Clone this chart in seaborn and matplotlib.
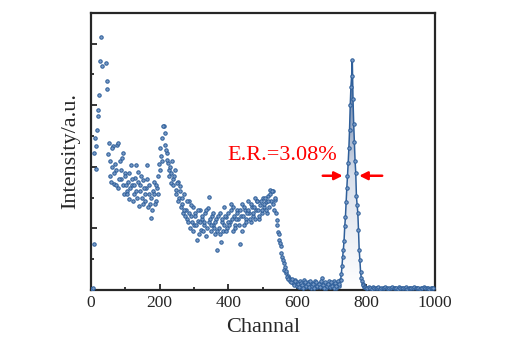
import numpy as np
import pandas as pd
import matplotlib
matplotlib.use("Agg")
import matplotlib.pyplot as plt
from matplotlib.colors import LinearSegmentedColormap
from matplotlib.ticker import MultipleLocator
import seaborn as sns

# spectrum counts, channels 0..724 every 4 channels
counts_a = [
    20, 15, 740, 2470, 1970, 2930, 3170, 4110, 3630, 4900, 5300, 3690, 3270,
    2390, 1850, 2000, 2340, 1720, 1950, 2360, 1650, 2100, 1800, 2230, 1560,
    1900, 1600, 1750, 1480, 2030, 1700, 1550, 1820, 1600, 1920, 1366, 1700, 1500,
    1780, 1450, 1650, 2030, 1550, 1400, 1170, 1600, 1750, 1450, 1650, 1850,
    1950, 2168, 2470, 2660, 2360, 2230, 2065, 1950, 1740, 2100, 1800, 1950,
    1620, 1760, 1500, 1680,
    1400, 1250, 1550, 1300, 1150, 1450, 1008, 1200, 1350, 1050, 1250, 813,
    1120, 1300, 980, 1150, 1050, 1250, 870, 1330, 1100, 950, 1200, 1050,
    900, 1150, 650, 1000, 1250, 1100, 950, 1350, 1180, 1000,
    1250, 1100, 1400, 950, 1200, 1050, 1300, 1150, 750, 1200, 1400, 1050,
    1300, 1150, 1450, 1250, 1100, 1350, 1200, 1500, 1300, 1440, 1150, 1380,
    1250, 1500, 1350, 1420, 1250, 1530, 1626, 1450, 1600, 1300, 1463, 1138,
    948, 813, 705, 540, 440, 379, 276, 230, 195, 160, 140, 110, 160, 90, 120,
    70, 140, 50, 100, 160, 40, 90, 130, 60, 30, 110, 70, 150, 40, 90, 60,
    120, 195, 50, 100, 30, 80, 140, 40, 90, 60, 150, 30, 110, 70, 160,
]

# spectrum counts, channels 2..722 every 4 channels
counts_b = [
    10, 25, 2230, 2330, 2590, 2820, 3712, 4700, 5000, 5100, 4800, 3400, 2200,
    2100, 1750, 2300, 1900, 2050, 1700, 2390, 1800, 1950, 2150, 1700, 1850,
    1700, 1550, 1900, 1650, 1800, 1450, 1700, 2030, 1500, 1750, 1600, 1850,
    1400, 1650, 1550, 1800, 1350, 1700, 1500, 1300, 1550, 1400, 1700, 1550, 2050,
    2300, 2100, 2655, 2550, 2276, 2114, 1850, 2000, 1900, 1700, 1850, 1550,
    1740, 1450, 1600, 1350,
    1500, 1300, 1200, 1450, 1100, 1250, 1380, 1100, 950, 1200, 1050, 1300,
    900, 1100, 1200, 950, 1100, 1300, 1000, 1512, 1150, 1050, 1250, 1000,
    1100, 950, 1200, 900, 780, 1150, 1050, 1200, 950, 1100,
    1050, 1300, 1150, 1350, 1000, 1150, 1250, 1050, 1300, 950, 1200, 1350,
    1100, 1250, 1300, 1150, 1400, 1250, 1350, 1150, 1436, 1300, 1200, 1450,
    1300, 1400, 1496, 1300, 1450, 1350, 1550, 1600, 1400, 1500, 1250, 1050,
    900, 760, 600, 488, 330, 300, 211, 180, 150, 120, 170, 80, 140, 60, 100,
    40, 110, 80, 30, 130, 70, 100, 40, 150, 60, 90, 30, 120, 70, 100,
    40, 140, 80, 30, 120, 60, 100, 40, 130, 70, 30, 110, 60, 140, 90,
]

# photopeak, channels 726..796 every 2 channels
peak_counts = [
    160, 250, 380, 540, 650, 800, 1030, 1180, 1420, 1650, 1850, 2065, 2300,
    2600, 3000, 3300, 3470, 3729, 3100, 2700, 2400, 2100, 1902, 1517, 1380,
    1252, 976, 650, 488, 298, 200, 140, 100, 81, 50, 40,
]

# flat tail, channels 800..996 every 4 channels
tail_counts = [
    35, 25, 40, 30, 20, 45, 30, 25, 35, 40, 20, 30, 35, 25, 40, 30, 20, 35,
    30, 45, 25, 30, 35, 20, 40, 30, 25, 35, 30, 40, 20, 30, 35, 25, 30, 40,
    25, 35, 30, 20, 35, 30, 40, 25, 30, 35, 20, 30, 25, 35,
]

label_text = "E.R.=3.08%"
er_level = 1854
er_left = (666, 740)
er_right = (855, 772)

part_a = pd.DataFrame({"channel": np.arange(len(counts_a)) * 4, "counts": counts_a})
part_b = pd.DataFrame({"channel": 2 + np.arange(len(counts_b)) * 4, "counts": counts_b})
peak = pd.DataFrame({"channel": 726 + np.arange(len(peak_counts)) * 2, "counts": peak_counts})
tail = pd.DataFrame({"channel": 800 + np.arange(len(tail_counts)) * 4, "counts": tail_counts})
spec = pd.concat([part_a, part_b, peak, tail], ignore_index=True)
fit = pd.concat([peak, tail], ignore_index=True)

sns.set_style("ticks")
plt.rcParams["font.family"] = ["Liberation Serif", "DejaVu Serif"]

blue = "#2f5f9a"
fig = plt.figure(figsize=(5.08, 3.57), dpi=100)
ax = fig.add_axes([0.179, 0.188, 0.677, 0.776])

# gradient fill under the photopeak
poly = ax.fill_between(peak["channel"], peak["counts"], 0, color="none", lw=0)
cmap = LinearSegmentedColormap.from_list("pk", ["#ffffff", "#d8dfeb", "#4a6897"])
grad = np.linspace(0, 1, 256).reshape(-1, 1)
im = ax.imshow(grad, extent=[peak["channel"].min(), peak["channel"].max(), 0, peak["counts"].max()],
               origin="lower", aspect="auto", cmap=cmap, zorder=1)
im.set_clip_path(poly.get_paths()[0], transform=ax.transData)

sns.lineplot(data=fit, x="channel", y="counts", ax=ax, color=blue, lw=1.1, zorder=2)
sns.scatterplot(data=spec, x="channel", y="counts", ax=ax, marker="o", s=6,
                facecolor="#7b9cc8", edgecolor=blue, linewidth=0.75, zorder=3)

ax.annotate("", xy=(er_left[1], er_level), xytext=(er_left[0], er_level),
            arrowprops=dict(arrowstyle="-|>", color="red", lw=1.8, mutation_scale=12))
ax.annotate("", xy=(er_right[1], er_level), xytext=(er_right[0], er_level),
            arrowprops=dict(arrowstyle="-|>", color="red", lw=1.8, mutation_scale=12))
ax.text(398, 2180, label_text, color="red", fontsize=16, ha="left", va="center")

ax.set_xlim(0, 1000)
ax.set_ylim(0, 4500)
ax.xaxis.set_major_locator(MultipleLocator(200))
ax.xaxis.set_minor_locator(MultipleLocator(100))
ax.yaxis.set_major_locator(MultipleLocator(1000))
ax.yaxis.set_minor_locator(MultipleLocator(500))
ax.set_yticklabels([])
ax.tick_params(which="both", direction="in", width=1.3)
ax.tick_params(which="major", length=4.5)
ax.tick_params(which="minor", length=2.5)
ax.tick_params(axis="x", labelsize=12.5, pad=4)
for s in ax.spines.values():
    s.set_linewidth(1.6)
ax.set_xlabel("Channal", fontsize=16, labelpad=5)
ax.set_ylabel("Intensity/a.u.", fontsize=16, labelpad=4)

fig.savefig("out.png", dpi=100)
